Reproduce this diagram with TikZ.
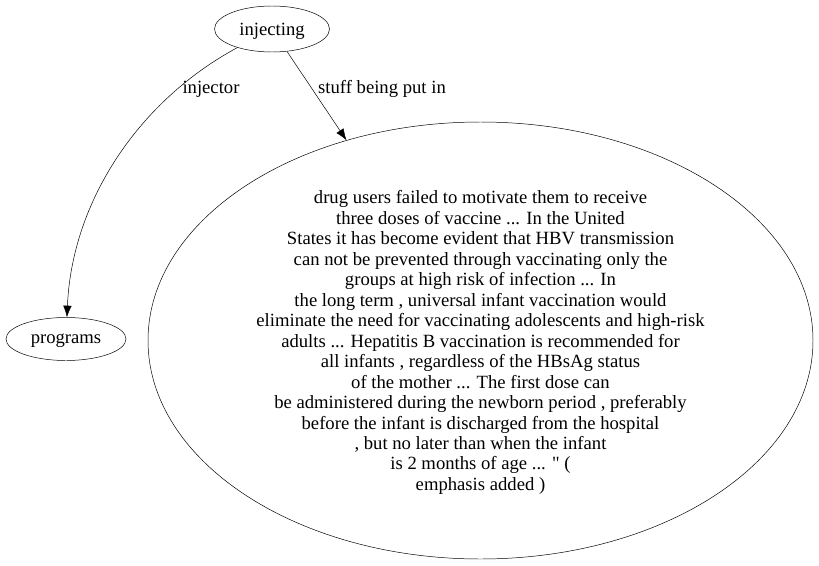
\documentclass[tikz,border=0pt]{standalone}
\usepackage{fontspec}
\setmainfont{Liberation Serif}
\newfontfamily\plainquote{Liberation Serif}
\usepackage{tikz}
\usetikzlibrary{shapes.geometric}
\usetikzlibrary{arrows.meta}
\tikzset{>={Latex[length=9.5pt,width=7pt]}}

\begin{document}
\begin{tikzpicture}[x=0.82pt, y=-0.82pt]
        % graph nodes are ellipses, edge labels are plain text
        \tikzset{>={Latex[length=9.5pt,width=7pt]}}
        \tikzstyle{every node}=[font=\fontsize{15.3}{16.8}\selectfont, inner sep=0pt, text depth=0pt]
        \tikzstyle{gnode}=[ellipse, draw=black, thin]
        \tikzstyle{glabel}=[anchor=center]
        \tikzstyle{every edge}=[black, ->, thin, draw]
        \useasboundingbox (0, 0) rectangle (819, 566);
        \node[gnode, minimum width=115*0.82pt, minimum height=46*0.82pt] (injecting) at (272, 29) {injecting};
        \node[gnode, minimum width=120*0.82pt, minimum height=43*0.82pt] (programs) at (66, 339) {programs};
        \node[gnode, align=center, minimum width=665*0.82pt, minimum height=437*0.82pt] (stuff) at (480.5, 340.5) {drug users failed to motivate them to receive\\
                three doses of vaccine ... In the United\\
                States it has become evident that HBV transmission\\
                can not be prevented through vaccinating only the\\
                groups at high risk of infection ... In\\
                the long term , universal infant vaccination would\\
                eliminate the need for vaccinating adolescents and high-risk\\
                adults ... Hepatitis B vaccination is recommended for\\
                all infants , regardless of the HBsAg status\\
                of the mother ... The first dose can\\
                be administered during the newborn period , preferably\\
                before the infant is discharged from the hospital\\
                , but no later than when the infant\\
                is 2 months of age ... {\plainquote "} (\\
                emphasis added )};

        \draw[->] (injecting) .. controls (140, 100) and (72, 200) .. (programs);
        \node[glabel] (injectorlbl) at (211, 87) {injector};

        \draw (injecting) edge (stuff);
        \node[glabel] (stufflbl) at (382, 87) {stuff being put in};
\end{tikzpicture}
\end{document}
